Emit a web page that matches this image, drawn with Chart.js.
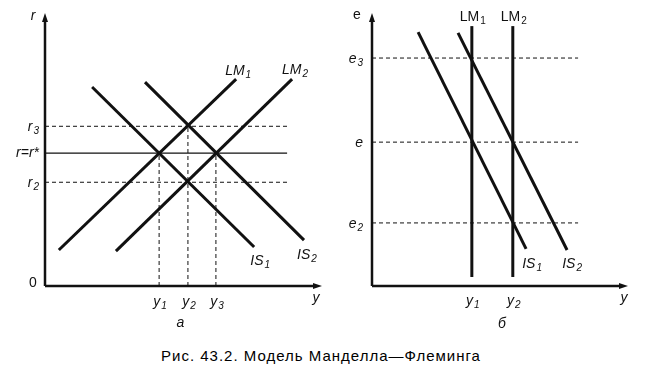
<!DOCTYPE html>
<html>
<head>
<meta charset="utf-8">
<script src="https://cdn.jsdelivr.net/npm/chart.js@4/dist/chart.umd.min.js"></script>
<style>
  body { margin: 0; background: #fff; width: 652px; height: 371px; position: relative; overflow: hidden; }
  canvas { position: absolute; top: 0; }
  #chartA { left: 0; }
  #chartB { left: 330px; }
  #caption { position: absolute; left: 0; top: 347px; width: 642px; text-align: center;
             font: 15px "Liberation Sans", Arial, sans-serif; color: #000; letter-spacing: 1px; }
</style>
</head>
<body>
<canvas id="chartA" width="330" height="340"></canvas>
<canvas id="chartB" width="322" height="340"></canvas>
<div id="caption">Рис. 43.2. Модель Манделла—Флеминга</div>
<script>
// ---- panel a: IS-LM in (y, r) ----
const rLevels = [5.85, 4.87, 3.8];          // r3, r = r*, r2
const rNames = [['r', '3'], ['r=r*', ''], ['r', '2']];
const yLevelsA = [4.12, 5.16, 6.17];       // y1, y2, y3
const yTopsA = [4.87, 5.85, 4.87];         // where the dashed verticals stop
const lm1A = [[0.5, 1.32], [6.9, 7.58]];
const lm2A = [[2.56, 1.28], [8.92, 7.58]];
const is1A = [[1.7, 7.29], [7.55, 1.43]];
const is2A = [[3.61, 7.47], [9.35, 1.68]];
const guideEndA = 8.74;

// ---- panel b: (y, e) ----
const eLevels = [8.35, 5.27, 2.31];        // e3, e, e2
const eNames = [['e', '3'], ['e', ''], ['e', '2']];
const yLevelsB = [3.9, 5.5];               // y1, y2
const lmSpanB = [0.33, 9.52];
const is1B = [[1.8, 9.3], [6.02, 1.36]];
const is2B = [[3.36, 9.27], [7.62, 1.32]];
const guideEndB = 8.05;

const INK = '#111';
const FONT = '"Liberation Sans", Arial, sans-serif';

function pts(arr) { return arr.map(p => ({ x: p[0], y: p[1] })); }

function curve(arr) {
  return { data: pts(arr), borderColor: INK, borderWidth: 3, pointRadius: 0, borderCapStyle: 'butt' };
}
function guide(arr, solid) {
  return { data: pts(arr), borderColor: INK, borderWidth: solid ? 1.3 : 1, borderDash: solid ? [] : [4, 3],
           pointRadius: 0 };
}

function text(ctx, x, y, main, sub, align, italic) {
  const st = italic === false ? '' : 'italic ';
  ctx.textBaseline = 'middle';
  ctx.textAlign = 'left';
  ctx.fillStyle = INK;
  ctx.font = st + '14px ' + FONT;
  const w1 = ctx.measureText(main).width;
  ctx.font = st + '10px ' + FONT;
  const w2 = sub ? ctx.measureText(sub).width + 1 : 0;
  let x0 = x;
  if (align === 'right') x0 = x - w1 - w2;
  if (align === 'center') x0 = x - (w1 + w2) / 2;
  ctx.font = st + '14px ' + FONT;
  ctx.fillText(main, x0, y);
  if (sub) {
    ctx.font = st + '10px ' + FONT;
    ctx.fillText(sub, x0 + w1 + 1, y + 4);
  }
}

function axes(ctx, area) {
  ctx.save();
  ctx.strokeStyle = INK;
  ctx.fillStyle = INK;
  ctx.lineWidth = 2.5;
  ctx.beginPath();
  ctx.moveTo(area.left, area.bottom);
  ctx.lineTo(area.left, area.top + 6);
  ctx.moveTo(area.left, area.bottom);
  ctx.lineTo(area.right - 6, area.bottom);
  ctx.stroke();
  ctx.beginPath();
  ctx.moveTo(area.left, area.top);
  ctx.lineTo(area.left - 3, area.top + 9);
  ctx.lineTo(area.left + 3, area.top + 9);
  ctx.closePath();
  ctx.fill();
  ctx.beginPath();
  ctx.moveTo(area.right, area.bottom);
  ctx.lineTo(area.right - 9, area.bottom - 3);
  ctx.lineTo(area.right - 9, area.bottom + 3);
  ctx.closePath();
  ctx.fill();
  ctx.restore();
}

function scalesCfg() {
  return {
    x: { type: 'linear', min: 0, max: 10, display: false },
    y: { type: 'linear', min: 0, max: 10, display: false }
  };
}

function baseOptions(padding) {
  return {
    responsive: false,
    animation: false,
    layout: { padding: padding },
    plugins: { legend: { display: false }, tooltip: { enabled: false } },
    scales: scalesCfg(),
    elements: { line: { tension: 0 } }
  };
}

// panel a
const datasetsA = [];
rLevels.forEach((r, i) => datasetsA.push(guide([[0, r], [guideEndA, r]], i === 1)));
yLevelsA.forEach((y, i) => datasetsA.push(guide([[y, 0], [y, yTopsA[i]]])));
[lm1A, lm2A, is1A, is2A].forEach(c => datasetsA.push(curve(c)));

new Chart(document.getElementById('chartA'), {
  type: 'line',
  data: { datasets: datasetsA },
  options: baseOptions({ left: 45, right: 8, top: 13, bottom: 54 }),
  plugins: [{
    id: 'labelsA',
    afterDraw(chart) {
      const { ctx, chartArea: a, scales: { x, y } } = chart;
      axes(ctx, a);
      ctx.save();
      text(ctx, a.left - 12, a.top + 3, 'r', '', 'center');
      text(ctx, a.left - 12, a.bottom - 3, '0', '', 'center', false);
      rLevels.forEach((r, i) => text(ctx, a.left - 6, y.getPixelForValue(r) + (i === 1 ? 0 : 1), rNames[i][0], rNames[i][1], 'right'));
      yLevelsA.forEach((v, i) => text(ctx, x.getPixelForValue(v) + 1, a.bottom + 16, 'y', String(i + 1), 'center'));
      text(ctx, a.right - 6, a.bottom + 12, 'y', '', 'center');
      text(ctx, (a.left + a.right) / 2 - 3, a.bottom + 37, 'а', '', 'center');
      text(ctx, x.getPixelForValue(lm1A[1][0]) + 2, y.getPixelForValue(lm1A[1][1]) - 8, 'LM', '1', 'center');
      text(ctx, x.getPixelForValue(lm2A[1][0]) + 3, y.getPixelForValue(lm2A[1][1]) - 9, 'LM', '2', 'center');
      text(ctx, x.getPixelForValue(is1A[1][0]) + 6, y.getPixelForValue(is1A[1][1]) + 14, 'IS', '1', 'center');
      text(ctx, x.getPixelForValue(is2A[1][0]) + 3, y.getPixelForValue(is2A[1][1]) + 15, 'IS', '2', 'center');
      ctx.restore();
    }
  }]
});

// panel b
const datasetsB = [];
eLevels.forEach(e => datasetsB.push(guide([[0, e], [guideEndB, e]])));
yLevelsB.forEach(v => datasetsB.push(curve([[v, lmSpanB[0]], [v, lmSpanB[1]]])));
[is1B, is2B].forEach(c => datasetsB.push(curve(c)));

new Chart(document.getElementById('chartB'), {
  type: 'line',
  data: { datasets: datasetsB },
  options: baseOptions({ left: 42, right: 24, top: 13, bottom: 54 }),
  plugins: [{
    id: 'labelsB',
    afterDraw(chart) {
      const { ctx, chartArea: a, scales: { x, y } } = chart;
      axes(ctx, a);
      ctx.save();
      text(ctx, a.left - 15, a.top + 2, 'e', '', 'center', false);
      eLevels.forEach((e, i) => text(ctx, a.left - 9, y.getPixelForValue(e) + 1, eNames[i][0], eNames[i][1], 'right'));
      yLevelsB.forEach((v, i) => {
        text(ctx, x.getPixelForValue(v) + 1, a.bottom + 15, 'y', String(i + 1), 'center');
        text(ctx, x.getPixelForValue(v) + 1, y.getPixelForValue(lmSpanB[1]) - 9, 'LM', String(i + 1), 'center', false);
      });
      text(ctx, a.right - 4, a.bottom + 12, 'y', '', 'center');
      text(ctx, (a.left + a.right) / 2 + 2, a.bottom + 38, 'б', '', 'center');
      text(ctx, x.getPixelForValue(is1B[1][0]) + 6, y.getPixelForValue(is1B[1][1]) + 15, 'IS', '1', 'center');
      text(ctx, x.getPixelForValue(is2B[1][0]) + 5, y.getPixelForValue(is2B[1][1]) + 14, 'IS', '2', 'center');
      ctx.restore();
    }
  }]
});
</script>
</body>
</html>
